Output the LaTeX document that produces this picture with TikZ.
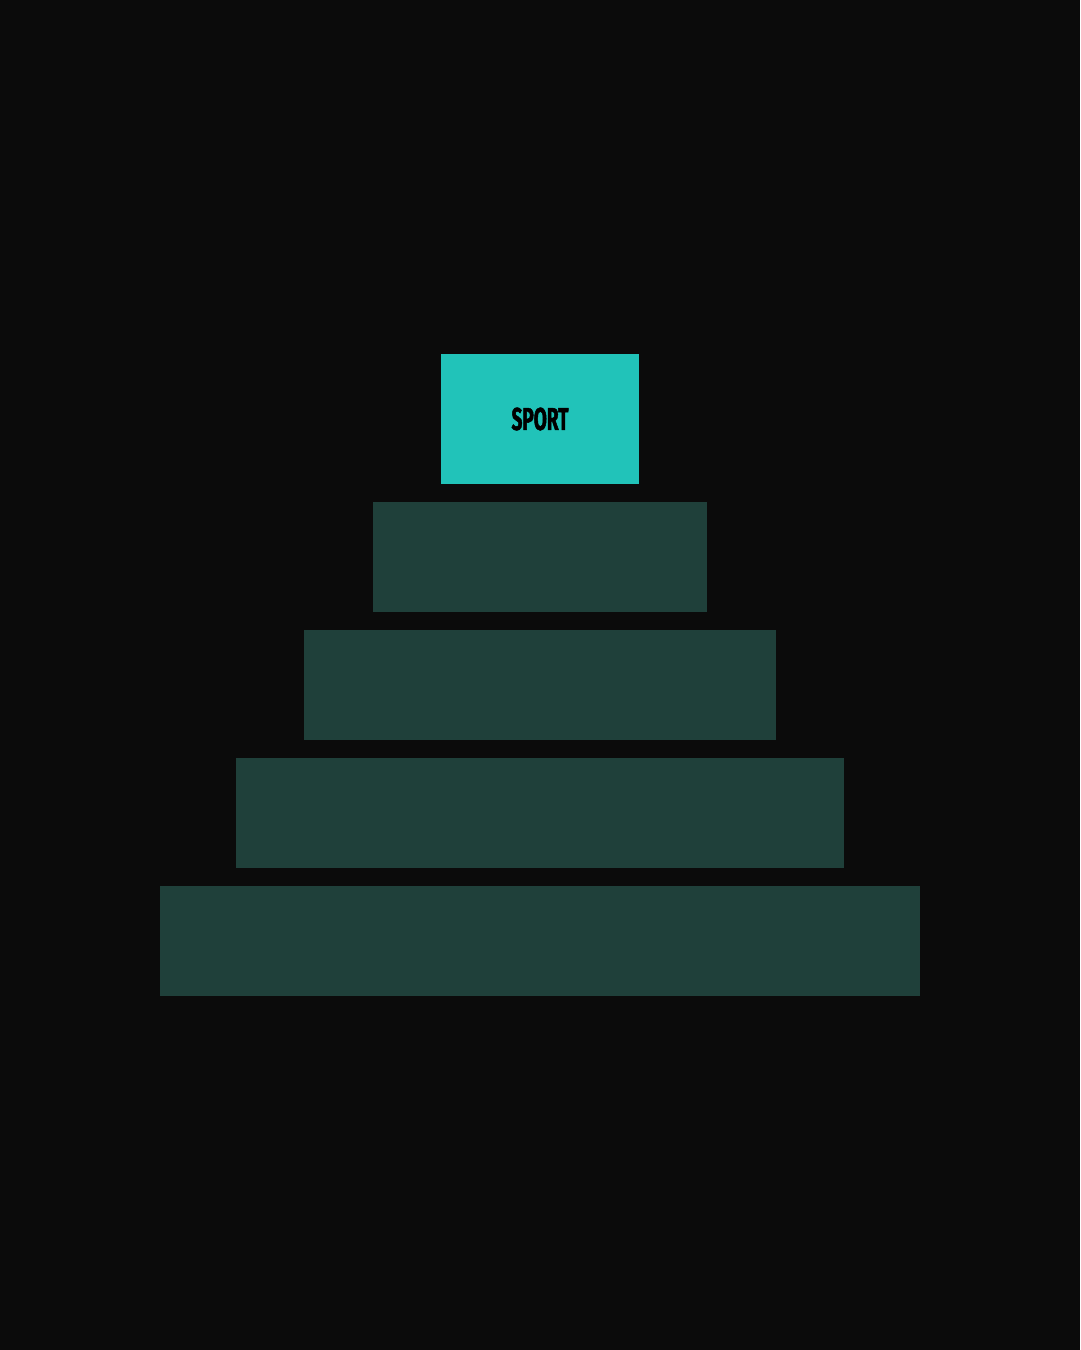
\documentclass[tikz,border=0pt]{standalone}
\usepackage{xcolor}
\usepackage{fontspec}
\usepackage{tikz}
\usetikzlibrary{positioning}
\newfontfamily\tierfont[FakeStretch=0.6,FakeBold=1.5]{Fira Sans Bold}
\definecolor{bgDark}{HTML}{0B0B0B}
\definecolor{topCyan}{HTML}{21C3B9}
\definecolor{tierGreen}{HTML}{1F403A}
\tikzstyle{tier}=[rectangle, fill=tierGreen, inner sep=0pt, minimum height=2.2cm]
\tikzstyle{peak}=[rectangle, fill=topCyan, inner sep=0pt, minimum width=3.96cm, minimum height=2.6cm]

\begin{document}
\begin{tikzpicture}[x=0.02cm, y=-0.02cm]
      \fill[bgDark] (0,0) rectangle (1080,1350);
      \useasboundingbox (0,0) rectangle (1080,1350);

      \node[peak] (sport) at (540,419) {\tierfont\fontsize{18}{20}\selectfont\color{black}SPORT};

      \node[tier, minimum width=6.68cm] (tier1) at (540,557) {};
      \node[tier, minimum width=9.44cm] (tier2) at (540,685) {};
      \node[tier, minimum width=12.16cm] (tier3) at (540,813) {};
      \node[tier, minimum width=15.2cm] (tier4) at (540,941) {};
\end{tikzpicture}
\end{document}
